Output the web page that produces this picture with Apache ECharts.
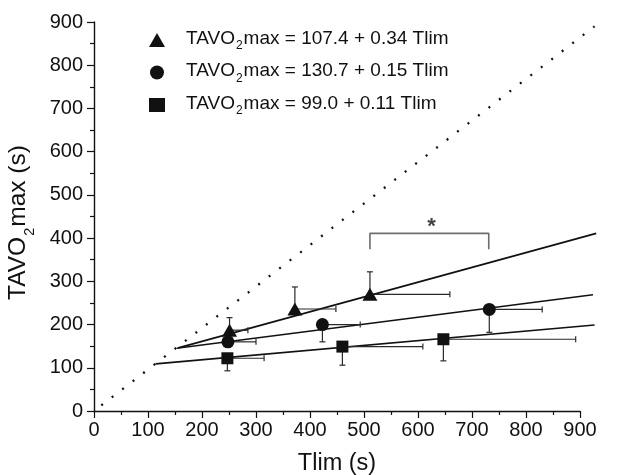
<!DOCTYPE html>
<html>
<head>
<meta charset="utf-8">
<script src="https://cdn.jsdelivr.net/npm/echarts@6/dist/echarts.min.js"></script>
<style>
  html, body { margin: 0; padding: 0; background: #fff; }
  #main { width: 626px; height: 475px; }
</style>
</head>
<body>
<div id="main"></div>
<script>
// values
var xTicks = [0, 100, 200, 300, 400, 500, 600, 700, 800, 900];

var triX = [251, 372, 511];
var triY = [187, 236, 270];
var triXSd = [34, 76, 148];
var triYSd = [29, 51, 52];

var cirX = [248, 423, 732];
var cirY = [160, 200, 235];
var cirXSd = [52, 70, 98];
var cirYSd = [12, 40, 53];

var sqX = [247, 460, 647];
var sqY = [122, 149, 166];
var sqXSd = [68, 149, 245];
var sqYSd = [29, 43, 50];

// fitted lines and identity line, end points as drawn (they run past 900)
var triFit = [156, 146, 930, 411];
var cirFit = [153, 145, 924, 269];
var sqFit = [114, 109, 927, 199];
var identity = [0, 0, 927, 890];

// significance bracket between the two points
var bracket = [[511, 374], [511, 411], [731, 411], [731, 374]];
var starPos = [[625, 425]];

var legendNames = [
  'TAVO2max = 107.4 + 0.34 Tlim',
  'TAVO2max = 130.7 + 0.15 Tlim',
  'TAVO2max = 99.0 + 0.11 Tlim'
];

var FONT = 'Liberation Sans';

function points(xs, ys) {
  var out = [];
  for (var i = 0; i < xs.length; i++) out.push([xs[i], ys[i]]);
  return out;
}

// [x, y, right end, vertical end]
function errData(xs, ys, xsd, ysd, up) {
  var out = [];
  for (var i = 0; i < xs.length; i++) {
    out.push([xs[i], ys[i], xs[i] + xsd[i], up ? ys[i] + ysd[i] : ys[i] - ysd[i]]);
  }
  return out;
}

function renderErr(params, api) {
  var c = api.coord([api.value(0), api.value(1)]);
  var r = api.coord([api.value(2), api.value(1)]);
  var v = api.coord([api.value(0), api.value(3)]);
  var st = { stroke: '#2a2a2a', lineWidth: 1.2 };
  var cap = 3;
  return {
    type: 'group',
    children: [
      { type: 'line', shape: { x1: c[0], y1: c[1], x2: r[0], y2: r[1] }, style: st },
      { type: 'line', shape: { x1: r[0], y1: r[1] - cap, x2: r[0], y2: r[1] + cap }, style: st },
      { type: 'line', shape: { x1: c[0], y1: c[1], x2: v[0], y2: v[1] }, style: st },
      { type: 'line', shape: { x1: v[0] - cap, y1: v[1], x2: v[0] + cap, y2: v[1] }, style: st }
    ]
  };
}

// item: [x1, y1, x2, y2, dotted]
function renderSeg(params, api) {
  var a = api.coord([api.value(0), api.value(1)]);
  var b = api.coord([api.value(2), api.value(3)]);
  var dotted = api.value(4) === 1;
  var st = dotted
    ? { stroke: '#111', lineWidth: 2.3, lineDash: [2, 11.2], lineDashOffset: 4 }
    : { stroke: '#111', lineWidth: 1.6 };
  return { type: 'line', shape: { x1: a[0], y1: a[1], x2: b[0], y2: b[1] }, style: st };
}

function subName(s) {
  var i = s.indexOf('2');
  return '{a|' + s.slice(0, i) + '}{s|2}{a|' + s.slice(i + 1) + '}';
}

var richLegend = {
  a: { fontFamily: FONT, fontSize: 19, color: '#111', lineHeight: 26, verticalAlign: 'top', padding: [2, 0, 0, 0] },
  s: { fontFamily: FONT, fontSize: 12, color: '#111', lineHeight: 26, verticalAlign: 'top', padding: [13, 1, 0, 1] }
};

var myChart = echarts.init(document.getElementById('main'));

var option = {
  animation: false,
  backgroundColor: '#fff',
  grid: { left: 94, right: 46, top: 22, bottom: 64, outerBoundsMode: 'none', containLabel: false },
  legend: {
    orient: 'vertical',
    left: 144, top: 22,
    itemWidth: 16, itemHeight: 14,
    itemGap: 7.5,
    textStyle: { rich: richLegend, padding: [0, 0, 0, 16] },
    formatter: function (name) { return subName(name); },
    data: [
      { name: legendNames[0], icon: 'triangle' },
      { name: legendNames[1], icon: 'circle' },
      { name: legendNames[2], icon: 'rect' }
    ]
  },
  xAxis: {
    type: 'value', min: 0, max: 900, interval: 100,
    name: 'Tlim (s)', nameLocation: 'middle', nameGap: 41,
    nameTextStyle: { fontFamily: FONT, fontSize: 23.5, color: '#111' },
    axisLine: { onZero: false, lineStyle: { color: '#111', width: 1.4 } },
    axisTick: { show: true, inside: false, length: 7, lineStyle: { color: '#111', width: 1.2 } },
    minorTick: { show: true, splitNumber: 2, length: 4, lineStyle: { color: '#111', width: 1.2 } },
    axisLabel: { fontFamily: FONT, fontSize: 20, color: '#111', margin: 9,
      formatter: function (v) { return xTicks.indexOf(v) >= 0 ? String(v) : ''; } },
    splitLine: { show: false }
  },
  yAxis: {
    type: 'value', min: 0, max: 900, interval: 100,
    name: '{a|TAVO}{s|2}{a|max (s)}{p|}', nameLocation: 'middle', nameGap: 58, nameRotate: 90,
    nameTextStyle: {
      rich: {
        a: { fontFamily: FONT, fontSize: 24.5, color: '#111', lineHeight: 31, verticalAlign: 'top', padding: [1, 0, 0, 0] },
        s: { fontFamily: FONT, fontSize: 14.5, color: '#111', lineHeight: 31, verticalAlign: 'top', padding: [17, 1, 0, 1] },
        p: { width: 12, lineHeight: 31 }
      }
    },
    axisLine: { onZero: false, lineStyle: { color: '#111', width: 1.4 } },
    axisTick: { show: true, inside: false, length: 7, lineStyle: { color: '#111', width: 1.2 } },
    minorTick: { show: true, splitNumber: 2, length: 4, lineStyle: { color: '#111', width: 1.2 } },
    axisLabel: { fontFamily: FONT, fontSize: 20, color: '#111', margin: 11 },
    splitLine: { show: false }
  },
  series: [
    {
      type: 'custom', renderItem: renderSeg, clip: false, silent: true, z: 2,
      data: [identity.concat([1]), triFit.concat([0]), cirFit.concat([0]), sqFit.concat([0])]
    },
    {
      type: 'custom', renderItem: renderErr, clip: false, z: 3, silent: true,
      data: errData(triX, triY, triXSd, triYSd, true)
        .concat(errData(cirX, cirY, cirXSd, cirYSd, false))
        .concat(errData(sqX, sqY, sqXSd, sqYSd, false))
    },
    {
      name: legendNames[0], type: 'scatter', symbol: 'triangle', symbolSize: [15, 13], z: 5,
      itemStyle: { color: '#111', opacity: 1 }, data: points(triX, triY)
    },
    {
      name: legendNames[1], type: 'scatter', symbol: 'circle', symbolSize: 13, z: 5,
      itemStyle: { color: '#111', opacity: 1 }, data: points(cirX, cirY)
    },
    {
      name: legendNames[2], type: 'scatter', symbol: 'rect', symbolSize: 12, z: 5,
      itemStyle: { color: '#111', opacity: 1 }, data: points(sqX, sqY)
    },
    {
      type: 'line', data: bracket, symbol: 'none', clip: false, silent: true, z: 2,
      lineStyle: { color: '#6e6e6e', width: 1.6 }
    },
    {
      type: 'scatter', data: starPos, symbolSize: 0, silent: true, z: 6,
      label: { show: true, position: 'inside', formatter: '*', fontFamily: FONT, fontSize: 22, fontWeight: 'bold', color: '#111' }
    }
  ]
};

myChart.setOption(option);
</script>
</body>
</html>
